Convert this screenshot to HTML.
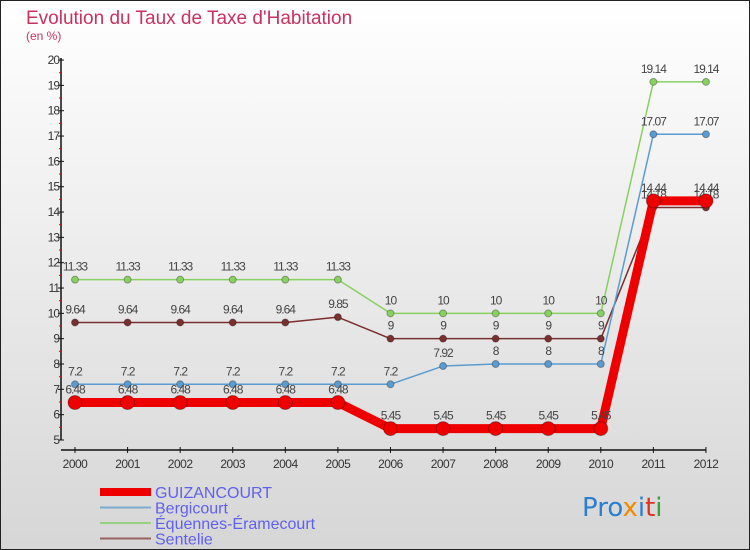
<!DOCTYPE html>
<html><head><meta charset="utf-8"><style>
body{margin:0}
#wrap{width:750px;height:550px;position:relative;overflow:hidden;font-family:"Liberation Sans",sans-serif}
</style></head><body>
<div id="wrap">
<svg id="svg" width="750" height="550" xmlns="http://www.w3.org/2000/svg">
<defs><linearGradient id="bg" x1="0" y1="0" x2="0" y2="1"><stop offset="0" stop-color="#ffffff"/><stop offset="1" stop-color="#d6d6d6"/></linearGradient></defs>
<rect x="0.5" y="0.5" width="749" height="549" fill="url(#bg)" stroke="#222"/>
<text x="26" y="24" font-size="19" fill="#c8325f">Evolution du Taux de Taxe d'Habitation</text>
<text x="26" y="40" font-size="12" fill="#c8325f">(en %)</text>
<g id="axes"></g><g id="series"></g><g id="legend"></g>
<g font-size="26" font-family="'DejaVu Sans',sans-serif">
<text x="582" y="516"><tspan fill="#2a7fd0">Pro</tspan><tspan fill="#f08a00">x</tspan><tspan fill="#2a7fd0">i</tspan><tspan fill="#e03020">t</tspan><tspan fill="#3aa040">i</tspan></text></g>
</svg></div>
<script>
const years=[2000,2001,2002,2003,2004,2005,2006,2007,2008,2009,2010,2011,2012];
const guizancourt=[6.48,6.48,6.48,6.48,6.48,6.48,5.45,5.45,5.45,5.45,5.45,14.44,14.44];
const bergicourt=[7.2,7.2,7.2,7.2,7.2,7.2,7.2,7.92,8,8,8,17.07,17.07];
const equennes=[11.33,11.33,11.33,11.33,11.33,11.33,10,10,10,10,10,19.14,19.14];
const sentelie=[9.64,9.64,9.64,9.64,9.64,9.85,9,9,9,9,9,14.18,14.18];
const yTicks=[5,6,7,8,9,10,11,12,13,14,15,16,17,18,19,20];
const NS="http://www.w3.org/2000/svg";
const X=i=>75+i*52.58, Y=v=>440-(v-5)*25.33;
function mk(p,t,a){const e=document.createElementNS(NS,t);for(const k in a)e.setAttribute(k,a[k]);p.appendChild(e);return e;}
const axes=document.getElementById('axes');
let e=mk(axes,'line',{x1:61,y1:Y(20)-2,x2:61,y2:Y(5),stroke:'#111','stroke-width':1.5});

e=mk(axes,'line',{x1:61,y1:450,x2:X(12),y2:450,stroke:'#111','stroke-width':1.5});

yTicks.forEach(v=>{mk(axes,'line',{x1:58,y1:Y(v),x2:64,y2:Y(v),stroke:'#111'});
 if(v<20)mk(axes,'line',{x1:59,y1:Y(v+0.5),x2:62,y2:Y(v+0.5),stroke:'#e00'});
 const t=mk(axes,'text',{x:59,y:Y(v)+4,'font-size':12,fill:'#333','text-anchor':'end','letter-spacing':'-1'});t.textContent=v;
 });
years.forEach((y,i)=>{mk(axes,'line',{x1:X(i),y1:447,x2:X(i),y2:453,stroke:'#111'});
 const t=mk(axes,'text',{x:X(i),y:468,'font-size':12,fill:'#333','text-anchor':'middle','letter-spacing':'-0.5'});t.textContent=y;
 });
const ser=document.getElementById('series');
function draw(data,color,w,r,name){
 const g=mk(ser,'g',{});
 mk(g,'polyline',{points:data.map((v,i)=>X(i)+','+Y(v)).join(' '),fill:'none',stroke:color,'stroke-width':w,'stroke-linejoin':'round'});
 data.forEach((v,i)=>{const c=mk(g,'circle',{cx:X(i),cy:Y(v),r:r,fill:color,stroke:'rgba(0,0,0,0.3)'});
  
  const t=mk(g,'text',{x:X(i),y:Y(v)-9,'font-size':12,fill:'#444','text-anchor':'middle','letter-spacing':'-1'});t.textContent=v;});
}
draw(equennes,'#88d060',1.5,3.5,'series-equennes');
draw(sentelie,'#7a3030',1.5,3.5,'series-sentelie');
draw(bergicourt,'#5b9bd0',1.5,3.5,'series-bergicourt');
draw(guizancourt,'#ee0000',9,7,'series-guizancourt');
const leg=document.getElementById('legend');
[['GUIZANCOURT','#ee0000',8],['Bergicourt','#7aaacc',2],['Équennes-Éramecourt','#99d080',2],['Sentelie','#996060',2]].forEach((d,i)=>{
 const y=492+i*15.5;const g=mk(leg,'g',{});
 mk(g,'line',{x1:100,y1:y,x2:151,y2:y,stroke:d[1],'stroke-width':d[2]});
 const t=mk(g,'text',{x:155,y:y+6,'font-size':16,fill:'#6060ee'});t.textContent=d[0];});
</script>
</body></html>
